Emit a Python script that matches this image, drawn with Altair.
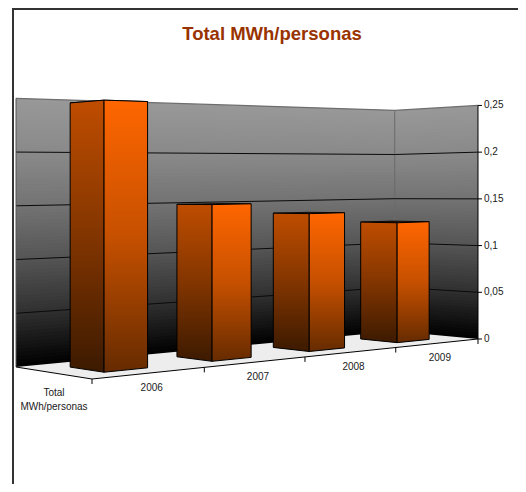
import altair as alt
import pandas as pd

# ---- chart values -------------------------------------------------
categories = ["2006", "2007", "2008", "2009"]
values = [0.245, 0.149, 0.138, 0.126]
value_ticks = [0, 0.05, 0.1, 0.15, 0.2, 0.25]
value_labels = ["0", "0,05", "0,1", "0,15", "0,2", "0,25"]
series_name = ["Total", "MWh/personas"]
chart_title = "Total MWh/personas"
wall_greys = [0, 48, 85, 115, 138, 152]   # wall shade read at each value tick

# ---- perspective camera of the 3D box (page pixels) ----------------
W, H = 510, 476
X0, Y0 = 92.0, 379.0      # front-left floor corner
AX, AY = 496.4, 38.3      # along categories
BX, BY = -74.88, 13.7     # along depth
G, D = 0.231, 0.07        # perspective terms
K = 1150.0                # vertical scale
U0, U1 = 0.29, 0.68       # bar footprint inside its category
Q0, Q1 = 0.27, 0.71       # bar footprint in depth


def proj(u, q, v=0.0):
    p = u / 4.0
    d = 1 + G * p + D * q
    x = (X0 + AX * p + BX * q) / d
    y = (Y0 + AY * p + BY * q) / d
    return x, y - v * K / d


sx = alt.Scale(domain=[8, 8 + W], range=[0, W], nice=False, zero=False)
sy = alt.Scale(domain=[8 + H, 8], range=[H, 0], nice=False, zero=False)
X = alt.X("x:Q", scale=sx, axis=None)
Y = alt.Y("y:Q", scale=sy, axis=None)
layers = []


def lerp(a, b, t):
    return a + (b - a) * t


def quad(pts, **mark):
    """Convex polygon drawn as an area: upper and lower outline at each vertex x."""
    xs = sorted({round(p[0], 3) for p in pts})
    rows = []
    n = len(pts)
    for x in xs:
        hits = []
        for i in range(n):
            a, b = pts[i], pts[(i + 1) % n]
            lo, hi = min(a[0], b[0]), max(a[0], b[0])
            if lo - 0.002 <= x <= hi + 0.002:
                if abs(b[0] - a[0]) < 0.002:
                    hits += [a[1], b[1]]
                else:
                    hits.append(lerp(a[1], b[1], (x - a[0]) / (b[0] - a[0])))
        rows.append({"x": x, "y": min(hits), "y2": max(hits)})
    layers.append(alt.Chart(pd.DataFrame(rows)).mark_area(**mark).encode(x=X, y=Y, y2="y2:Q"))


def line(pts, color="#000000", width=1.0):
    df = pd.DataFrame({"x": [p[0] for p in pts], "y": [p[1] for p in pts], "i": range(len(pts))})
    layers.append(
        alt.Chart(df).mark_line(color=color, strokeWidth=width, interpolate="linear")
        .encode(x=alt.X("x:Q", scale=sx, axis=None, sort=None), y=Y, order="i:Q")
    )


def text(rows, **mark):
    layers.append(
        alt.Chart(pd.DataFrame(rows)).mark_text(font="Liberation Sans", **mark)
        .encode(x=X, y=Y, text="t:N")
    )


def wall_grey(f):
    pos = f * (len(wall_greys) - 1)
    k = min(int(pos), len(wall_greys) - 2)
    return int(round(lerp(wall_greys[k], wall_greys[k + 1], pos - k)))


# ---- walls: shading by value, painted from the top down so no seams show
STRIPS = 75
TOP = 0.25
for wall, ends in enumerate([((0, 1), (4, 1)), ((4, 1), (4, 0))]):
    for s in range(STRIPS - 1, -1, -1):
        v2 = TOP * (s + 1) / STRIPS
        g = wall_grey((s + 0.5) / STRIPS)
        rows = []
        for e in ends:
            x, yb = proj(e[0], e[1], 0)
            _, yt = proj(e[0], e[1], v2)
            rows.append({"x": x, "y": yt, "y2": yb})
        layers.append(
            alt.Chart(pd.DataFrame(rows))
            .mark_area(color=f"#{g:02x}{g:02x}{g:02x}")
            .encode(x=X, y=Y, y2="y2:Q")
        )

# floor
quad([proj(0, 0), proj(4, 0), proj(4, 1), proj(0, 1)], color="#ededed")

# wall outline and gridlines
line([proj(0, 1, TOP), proj(4, 1, TOP), proj(4, 0, TOP)], color="#6e6e6e", width=1.2)
line([proj(4, 1, 0), proj(4, 1, TOP)], color="#6a6a6a", width=1)
for v in value_ticks[1:-1]:
    line([proj(0, 1, v), proj(4, 1, v), proj(4, 0, v)], color="#0a0a0a", width=1)
line([proj(0, 1, 0), proj(0, 1, TOP)], color="#555555", width=1)


# ---- bars ----------------------------------------------------------
def grad(top, mid, bottom):
    return alt.Gradient(
        gradient="linear", x1=0, x2=0, y1=0, y2=1,
        stops=[
            alt.GradientStop(color=top, offset=0),
            alt.GradientStop(color=mid, offset=0.5),
            alt.GradientStop(color=bottom, offset=1),
        ],
    )


for i, val in enumerate(values):
    u0, u1 = i + U0, i + U1
    bl, fl, fr, br = (u0, Q1), (u0, Q0), (u1, Q0), (u1, Q1)
    # the top goes first: the side faces hide it where the camera is below it
    quad(
        [proj(*bl, val), proj(*br, val), proj(*fr, val), proj(*fl, val)],
        color="#3a1800", stroke="#000000", strokeWidth=0.8,
    )
    quad(
        [proj(*bl, val), proj(*fl, val), proj(*fl, 0), proj(*bl, 0)],
        color=grad("#bf4d00", "#823500", "#3c1a00"), stroke="#000000", strokeWidth=1,
    )
    quad(
        [proj(*fl, val), proj(*fr, val), proj(*fr, 0), proj(*fl, 0)],
        color=grad("#ff6600", "#c65000", "#662b00"), stroke="#000000", strokeWidth=1,
    )

# ---- axes ----------------------------------------------------------
line([proj(0, 1), proj(0, 0)], width=1)
line([proj(0, 0), proj(4, 0)], width=1)
for u in range(5):
    x, y = proj(u, 0)
    line([(x, y), (x, y + 5)], width=1)
line([proj(4, 0, 0), proj(4, 0, TOP)], width=1)
for v in value_ticks:
    x, y = proj(4, 0, v)
    line([(x, y), (x + 4, y)], width=1)

text(
    [{"x": proj(4, 0, v)[0] + 6, "y": proj(4, 0, v)[1], "t": t} for v, t in zip(value_ticks, value_labels)],
    align="left", baseline="middle", fontSize=10, color="#1a1a1a",
)
text(
    [{"x": proj(i + 0.5, 0)[0] + 2, "y": proj(i + 0.5, 0)[1] + 15, "t": c} for i, c in enumerate(categories)],
    align="center", baseline="middle", fontSize=10, color="#1a1a1a",
)
text(
    [{"x": 54, "y": 393, "t": series_name[0]}, {"x": 54, "y": 407, "t": series_name[1]}],
    align="center", baseline="middle", fontSize=10, color="#1a1a1a",
)
text(
    [{"x": 272, "y": 34, "t": chart_title}],
    align="center", baseline="middle", fontSize=18.5, fontWeight="bold", color="#993300",
)

# ---- chart frame ---------------------------------------------------
line([(13, 8 + H), (13, 9), (8 + W, 9)], color="#333333", width=2)

chart = alt.layer(*layers).properties(
    width=W, height=H, padding=0,
    autosize=alt.AutoSizeParams(type="none"),
    background="#ffffff",
).configure_view(stroke=None)

chart.save("out.html", embed_options={"renderer": "svg", "actions": False})
